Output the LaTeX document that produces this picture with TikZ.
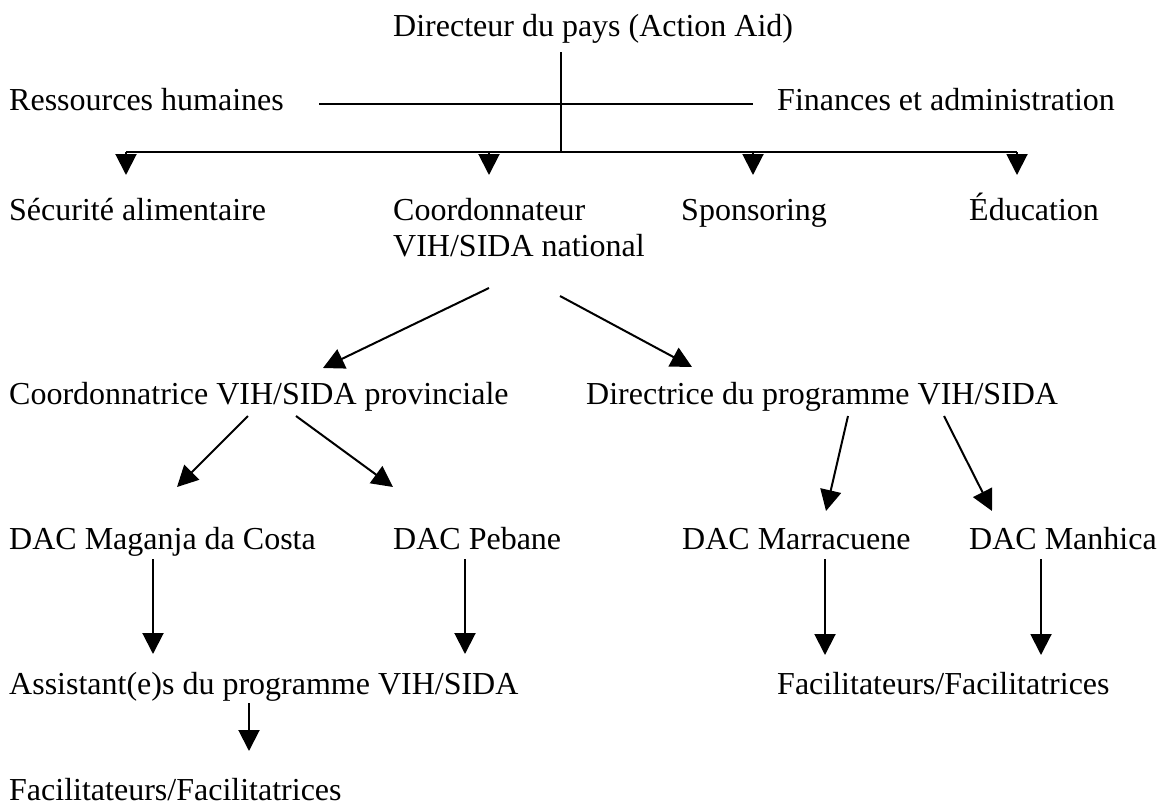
\documentclass[tikz,border=0pt]{standalone}
\usepackage{fontspec}
\setmainfont{Liberation Serif}
\usetikzlibrary{arrows.meta}
\tikzset{
  lbl/.style={anchor=base west, inner sep=0pt, font=\fontsize{32}{36}\selectfont},
  ln/.style={line width=2pt, black},
  arr/.style={ln, -{Triangle[length=21pt,width=21pt]}},
}
\begin{document}
\begin{tikzpicture}[x=1pt,y=-1pt]
\useasboundingbox (0,0) rectangle (1162,806);
% nodes
\node[lbl] (dir)   at (393,36)  {Directeur du pays (Action Aid)};
\node[lbl] (rh)    at (9,110)   {Ressources humaines};
\node[lbl] (fa)    at (777,110) {Finances et administration};
\node[lbl] (sec)   at (9,220)   {Sécurité alimentaire};
\node[lbl] (coo)   at (393,220) {\begin{tabular}[t]{@{}l@{}}Coordonnateur\\VIH/SIDA national\end{tabular}};
\node[lbl] (spo)   at (681,220) {Sponsoring};
\node[lbl] (edu)   at (969,220) {Éducation};
\node[lbl] (coop)  at (9,404)   {Coordonnatrice VIH/SIDA provinciale};
\node[lbl] (dirp)  at (586,404) {Directrice du programme VIH/SIDA};
\node[lbl] (dacm)  at (9,549)   {DAC Maganja da Costa};
\node[lbl] (dacp)  at (393,549) {DAC Pebane};
\node[lbl] (dacmr) at (682,549) {DAC Marracuene};
\node[lbl] (dacmh) at (969,549) {DAC Manhica};
\node[lbl] (asst)  at (9,694)   {Assistant(e)s du programme VIH/SIDA};
\node[lbl] (facr)  at (777,694) {Facilitateurs/Facilitatrices};
\node[lbl] (facl)  at (9,800)   {Facilitateurs/Facilitatrices};
% top structure
\coordinate (busL) at ([shift={(117,-68)}]sec.base west);
\coordinate (busR) at ([shift={(48,-68)}]edu.base west);
\coordinate (dirout) at ([shift={(168,16)}]dir.base west);
\draw[ln] (dirout) -- (dirout |- busL);
\draw[ln] ([shift={(35,-6)}]rh.base east) -- ([shift={(-24,-6)}]fa.base west);
\draw[ln] (busL) -- (busR);
\coordinate (t1) at ([shift={(117,-45)}]sec.base west);
\coordinate (t2) at ([shift={(96,-45)}]coo.base west);
\coordinate (t3) at ([shift={(72,-45)}]spo.base west);
\coordinate (t4) at ([shift={(48,-45)}]edu.base west);
\draw[arr] (t1 |- busL) -- (t1);
\draw[arr] (t2 |- busL) -- (t2);
\draw[arr] (t3 |- busL) -- (t3);
\draw[arr] (t4 |- busL) -- (t4);
% national coordinator
\draw[arr] ([shift={(96,68)}]coo.base west)  -- ([shift={(314,-36)}]coop.base west);
\draw[arr] ([shift={(167,76)}]coo.base west) -- ([shift={(106,-37)}]dirp.base west);
% provincial
\draw[arr] ([shift={(239,12)}]coop.base west) -- ([shift={(168,-62)}]dacm.base west);
\draw[arr] ([shift={(287,12)}]coop.base west) -- ([shift={(0,-62)}]dacp.base west);
% directrice
\draw[arr] ([shift={(262,12)}]dirp.base west) -- ([shift={(144,-38)}]dacmr.base west);
\draw[arr] ([shift={(358,12)}]dirp.base west) -- ([shift={(23,-38)}]dacmh.base west);
% DAC to next level
\draw[arr] ([shift={(144,10)}]dacm.base west)  -- ([shift={(144,-40)}]asst.base west);
\draw[arr] ([shift={(72,10)}]dacp.base west)   -- ([shift={(456,-40)}]asst.base west);
\draw[arr] ([shift={(143,10)}]dacmr.base west) -- ([shift={(48,-39)}]facr.base west);
\draw[arr] ([shift={(72,10)}]dacmh.base west)  -- ([shift={(264,-39)}]facr.base west);
\draw[arr] ([shift={(240,9)}]asst.base west)   -- ([shift={(240,-49)}]facl.base west);
\end{tikzpicture}
\end{document}
